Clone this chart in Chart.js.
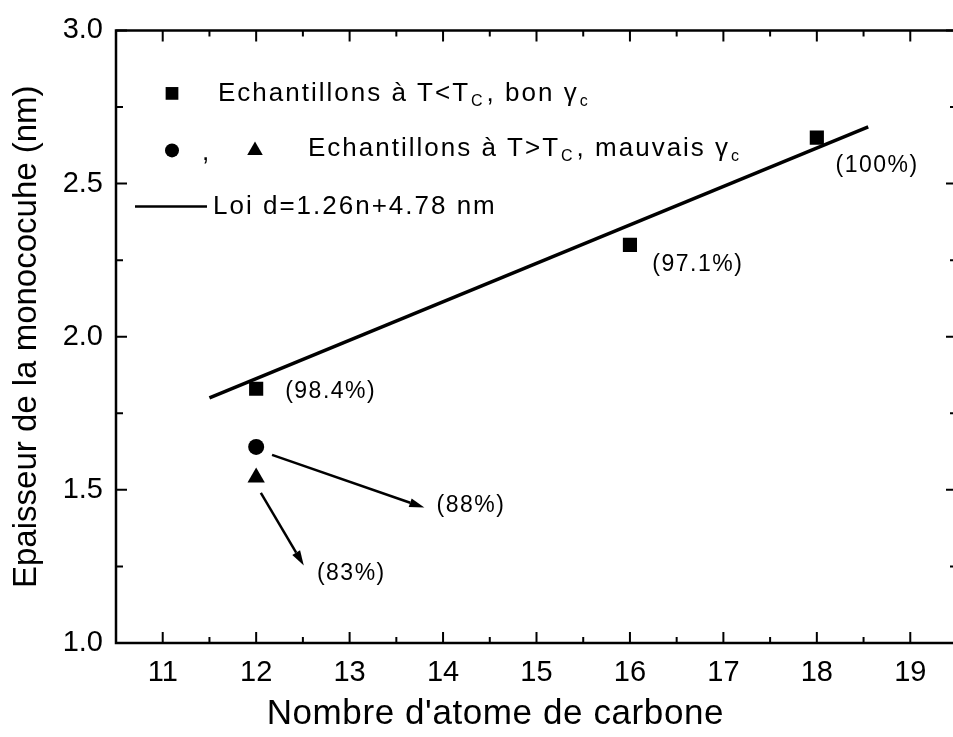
<!DOCTYPE html>
<html><head><meta charset="utf-8">
<script src="https://cdn.jsdelivr.net/npm/chart.js@4/dist/chart.umd.min.js"></script>
<style>html,body{margin:0;padding:0;background:#fff;overflow:hidden}#wrap{width:980px;height:737px}</style>
</head><body><div id="wrap"><canvas id="c" width="980" height="737" style="width:980px;height:737px"></canvas></div>
<script>
// ---- data ----
const carbonGood = [12, 16, 18];
const thicknessGood = [1.83, 2.30, 2.65];
const carbonCircle = [12];
const thicknessCircle = [1.64];
const carbonTriangle = [12];
const thicknessTriangle = [1.54];
const lawCarbon = [11.5, 18.55];
const lawThickness = [1.80, 2.685];
const xTickValues = [11, 12, 13, 14, 15, 16, 17, 18, 19];
const yTickValues = [1.0, 1.5, 2.0, 2.5, 3.0];
const percentLabels = ["(98.4%)", "(97.1%)", "(100%)", "(88%)", "(83%)"];
const percentX = [12.31, 16.24, 18.2, 13.93, 12.65];
const percentY = [1.821, 2.234, 2.558, 1.448, 1.227];
const arrowFromX = [12.17, 12.05];
const arrowFromY = [1.614, 1.49];
const arrowToX = [13.8, 12.51];
const arrowToY = [1.442, 1.253];
const xTitle = "Nombre d'atome de carbone";
const yTitle = "Epaisseur de la monococuhe (nm)";

const FONT = '"Liberation Sans", Arial, sans-serif';
const pts = (xs, ys) => xs.map((x, i) => ({x: x, y: ys[i]}));

function drawRich(ctx, parts, x, y, size) {
  let cx = x;
  parts.forEach(p => {
    if (p.sub) {
      ctx.font = Math.round(size * 0.6) + 'px ' + FONT;
      ctx.fillText(p.t, cx + 1, y + size * 0.32);
    } else {
      ctx.font = size + 'px ' + FONT;
      ctx.fillText(p.t, cx, y);
    }
    cx += ctx.measureText(p.t).width + (p.sub ? 3 : 0);
  });
}

const framePlugin = {
  id: 'frame',
  afterDraw(chart) {
    const ctx = chart.ctx;
    const a = chart.chartArea;
    const xs = chart.scales.x, ys = chart.scales.y;
    ctx.save();
    ctx.strokeStyle = '#000';
    ctx.fillStyle = '#000';
    // frame
    ctx.lineWidth = 2.5;
    ctx.beginPath();
    ctx.moveTo(a.left, a.top); ctx.lineTo(a.right, a.top); ctx.lineTo(a.right, a.bottom);
    ctx.lineTo(a.left, a.bottom); ctx.closePath(); ctx.stroke();
    // ticks (inward)
    ctx.lineWidth = 2;
    ctx.beginPath();
    for (let v = xs.min; v <= xs.max + 1e-9; v += 0.5) {
      const px = xs.getPixelForValue(v);
      const major = Math.abs(v - Math.round(v)) < 1e-6;
      const len = major ? 11 : 6;
      ctx.moveTo(px, a.bottom); ctx.lineTo(px, a.bottom - len);
      ctx.moveTo(px, a.top); ctx.lineTo(px, a.top + len);
    }
    for (let v = ys.min; v <= ys.max + 1e-9; v += 0.25) {
      const py = ys.getPixelForValue(v);
      const major = Math.abs(v * 2 - Math.round(v * 2)) < 1e-6;
      const len = major ? 11 : 7;
      ctx.moveTo(a.left, py); ctx.lineTo(a.left + len, py);
      ctx.moveTo(a.right, py); ctx.lineTo(a.right - len, py);
    }
    ctx.stroke();
    // arrows
    ctx.lineWidth = 2.5;
    arrowFromX.forEach((fx, i) => {
      const x1 = xs.getPixelForValue(fx), y1 = ys.getPixelForValue(arrowFromY[i]);
      const x2 = xs.getPixelForValue(arrowToX[i]), y2 = ys.getPixelForValue(arrowToY[i]);
      const ang = Math.atan2(y2 - y1, x2 - x1);
      const hl = 15, hw = 4.5;
      const bx = x2 - hl * Math.cos(ang), by = y2 - hl * Math.sin(ang);
      ctx.beginPath(); ctx.moveTo(x1, y1); ctx.lineTo(bx, by); ctx.stroke();
      ctx.beginPath();
      ctx.moveTo(x2, y2);
      ctx.lineTo(bx + hw * Math.sin(ang), by - hw * Math.cos(ang));
      ctx.lineTo(bx - hw * Math.sin(ang), by + hw * Math.cos(ang));
      ctx.closePath(); ctx.fill();
    });
    // percentage labels
    ctx.textBaseline = 'middle';
    ctx.textAlign = 'left';
    ctx.letterSpacing = '1.5px';
    ctx.font = '23px ' + FONT;
    percentLabels.forEach((t, i) => {
      ctx.fillText(t, xs.getPixelForValue(percentX[i]), ys.getPixelForValue(percentY[i]));
    });
    // legend
    const L = a.left, T = a.top;
    const H = Chart.helpers;
    H.drawPoint(ctx, {pointStyle: 'rect', radius: 9, rotation: 0, borderWidth: 0}, L + 56, T + 63);
    H.drawPoint(ctx, {pointStyle: 'circle', radius: 7, rotation: 0, borderWidth: 0}, L + 56, T + 120);
    H.drawPoint(ctx, {pointStyle: 'triangle', radius: 9, rotation: 0, borderWidth: 0}, L + 139, T + 120);
    ctx.letterSpacing = '2px';
    ctx.font = '26px ' + FONT;
    ctx.fillText(',', L + 86, T + 122);
    ctx.lineWidth = 2.5;
    ctx.beginPath(); ctx.moveTo(L + 19, T + 176); ctx.lineTo(L + 91, T + 176); ctx.stroke();
    drawRich(ctx, [{t: 'Echantillons à T<T'}, {t: 'C', sub: true}, {t: ', bon γ'}, {t: 'c', sub: true}], L + 102, T + 63, 26);
    drawRich(ctx, [{t: 'Echantillons à T>T'}, {t: 'C', sub: true}, {t: ', mauvais γ'}, {t: 'c', sub: true}], L + 192, T + 118, 26);
    drawRich(ctx, [{t: 'Loi d=1.26n+4.78 nm'}], L + 97, T + 176, 26);
    // x axis title (placed as in the original, slightly left of centre)
    ctx.letterSpacing = '0.6px';
    ctx.textAlign = 'center';
    ctx.font = '35px ' + FONT;
    ctx.fillText(xTitle, xs.getPixelForValue(14.56), 714);
    ctx.restore();
  }
};

new Chart(document.getElementById('c'), {
  type: 'scatter',
  data: {
    datasets: [
      {label: 'law', type: 'line', data: pts(lawCarbon, lawThickness), borderColor: '#000', borderWidth: 3.5,
       pointRadius: 0, fill: false, tension: 0, order: 2},
      {label: 'good', data: pts(carbonGood, thicknessGood), pointStyle: 'rect', pointRadius: 10,
       backgroundColor: '#000', borderColor: '#000', borderWidth: 0, order: 1},
      {label: 'circle', data: pts(carbonCircle, thicknessCircle), pointStyle: 'circle', pointRadius: 8,
       backgroundColor: '#000', borderColor: '#000', borderWidth: 0, order: 1},
      {label: 'triangle', data: pts(carbonTriangle, thicknessTriangle), pointStyle: 'triangle', pointRadius: 10,
       backgroundColor: '#000', borderColor: '#000', borderWidth: 0, order: 1}
    ]
  },
  options: {
    responsive: false,
    animation: false,
    devicePixelRatio: 1,
    layout: {padding: {left: 0, top: 27, right: 23, bottom: 0}},
    plugins: {legend: {display: false}, tooltip: {enabled: false}},
    scales: {
      x: {
        type: 'linear', min: 10.5, max: 19.5,
        afterBuildTicks: s => { s.ticks = xTickValues.map(v => ({value: v})); },
        afterFit: s => { s.height = 94; },
        grid: {display: false, drawTicks: false},
        border: {display: false},
        ticks: {color: '#000', padding: 13, font: {family: FONT, size: 29}, callback: v => String(v)},
        title: {display: false, text: xTitle}
      },
      y: {
        type: 'linear', min: 1.0, max: 3.0,
        afterBuildTicks: s => { s.ticks = yTickValues.map(v => ({value: v})); },
        afterFit: s => { s.width = 116; },
        grid: {display: false, drawTicks: false},
        border: {display: false},
        ticks: {color: '#000', padding: 13, font: {family: FONT, size: 29}, callback: v => Number(v).toFixed(1)},
        title: {display: true, text: yTitle, color: '#000', font: {family: FONT, size: 33}, padding: {top: 7, bottom: 0}}
      }
    }
  },
  plugins: [framePlugin]
});
</script></body></html>
